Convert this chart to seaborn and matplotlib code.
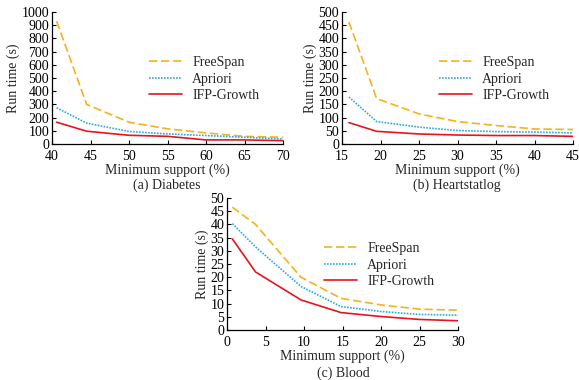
import numpy as np
import pandas as pd
import matplotlib
matplotlib.use("Agg")
import matplotlib.pyplot as plt
import seaborn as sns

# data
algos = ["FreeSpan", "Apriori", "IFP-Growth"]

diab_x = [40.6, 44.5, 50, 55, 60, 65, 70]
diab_freespan = [930, 300, 165, 115, 84, 58, 51]
diab_apriori = [275, 158, 95, 76, 64, 51, 38]
diab_ifp = [165, 97, 66, 58, 31, 31, 25]

heart_x = [15.9, 19.5, 25, 30, 35, 40, 45]
heart_freespan = [462, 172, 114, 85, 70, 57, 55]
heart_apriori = [178, 85, 64, 51, 47, 45, 42]
heart_ifp = [81, 48, 38, 34, 32, 32, 29]

blood_x = [0.7, 3.7, 9.6, 14.8, 20, 25, 30]
blood_freespan = [46.5, 40, 20, 12, 9.5, 7.9, 7.5]
blood_apriori = [40.3, 31.5, 16.5, 8.9, 7, 5.9, 5.6]
blood_ifp = [34.5, 22, 11.4, 6.6, 5.1, 4, 3.5]

colors = {"FreeSpan": "#F5B21C", "Apriori": "#2CA9E1", "IFP-Growth": "#E8141B"}
styles = {"FreeSpan": (5, 2.2), "Apriori": (1, 0.8), "IFP-Growth": ""}

sns.set_theme(style="ticks")
plt.rcParams["font.family"] = ["Liberation Serif", "DejaVu Serif"]
plt.rcParams["xtick.direction"] = "in"
plt.rcParams["ytick.direction"] = "in"


def make_df(x, fs, ap, ifp):
    rows = []
    for name, vals in zip(algos, [fs, ap, ifp]):
        for xi, yi in zip(x, vals):
            rows.append({"support": xi, "time": yi, "algo": name})
    return pd.DataFrame(rows)


fig = plt.figure(figsize=(5.79, 3.8), dpi=100)
W, H = 579, 380


def add_ax(left, bottom_px, top_px, width=231):
    return fig.add_axes([left / W, (H - bottom_px) / H, width / W, (bottom_px - top_px) / H])


panels = [
    (add_ax(52, 144, 12), make_df(diab_x, diab_freespan, diab_apriori, diab_ifp),
     (40, 70), (0, 1000), 100, "(a) Diabetes", 167, 185),
    (add_ax(342, 144, 12), make_df(heart_x, heart_freespan, heart_apriori, heart_ifp),
     (15, 45), (0, 500), 50, "(b) Heartstatlog", 457, 185),
    (add_ax(227, 330, 198), make_df(blood_x, blood_freespan, blood_apriori, blood_ifp),
     (0, 30), (0, 50), 5, "(c) Blood", 343, 373),
]

for ax, df, xlim, ylim, ystep, title, tx, ty in panels:
    sns.lineplot(data=df, x="support", y="time", hue="algo", style="algo",
                 palette=colors, dashes=styles, hue_order=algos, style_order=algos,
                 linewidth=1.2, ax=ax)
    ax.set_xlim(*xlim)
    ax.set_ylim(*ylim)
    ax.set_xticks(np.arange(xlim[0], xlim[1] + 1, 5))
    ax.set_yticks(np.arange(ylim[0], ylim[1] + 1, ystep))
    ax.tick_params(labelsize=10, length=3, width=0.8, colors="black")
    ax.tick_params(axis="y", pad=2)
    ax.tick_params(axis="x", pad=4)
    for s in ["left", "bottom"]:
        ax.spines[s].set_linewidth(0.9)
        ax.spines[s].set_color("black")
    sns.despine(ax=ax)
    ax.set_xlabel("Minimum support (%)", fontsize=10, labelpad=0.5)
    ax.set_ylabel("Run time (s)", fontsize=10, labelpad=1)
    leg = ax.legend(loc="center left", bbox_to_anchor=(0.42, 0.49), frameon=False,
                    fontsize=10, handlelength=2.4, handletextpad=0.7,
                    labelspacing=0.25, borderpad=0, borderaxespad=0)
    fig.text(tx / W, 1 - ty / H, title, ha="center", va="center", fontsize=10)

fig.savefig("out.png", dpi=100, facecolor="white")
